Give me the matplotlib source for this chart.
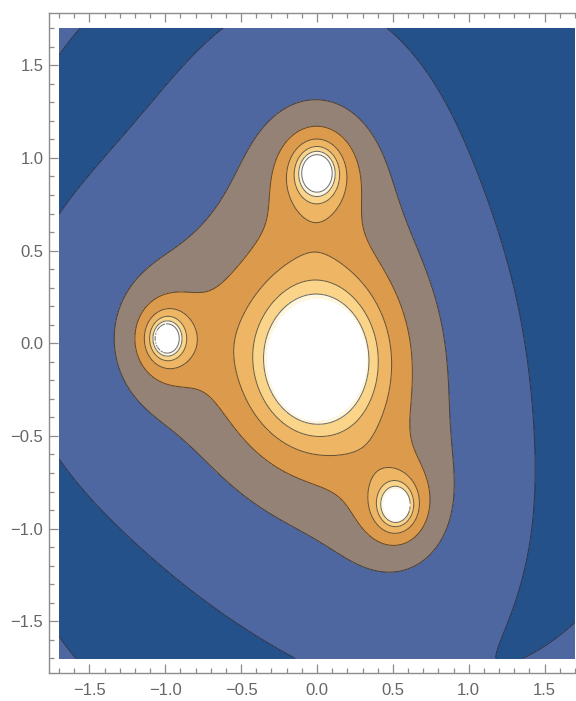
import numpy as np
import matplotlib.pyplot as plt
from matplotlib.ticker import MultipleLocator, FuncFormatter

# sources: position and strength of each body
src_x = [0.0, -0.99, 0.0, 0.52]
src_y = [-0.09, 0.026, 0.92, -0.873]
src_m = [1.0, 0.206, 0.271, 0.209]
bowl = 0.116  # r^2 term, makes the corners rise again

# white holes (the bodies themselves)
hole_x = [0.0, -0.99, 0.0, 0.523]
hole_y = [-0.09, 0.026, 0.918, -0.873]
hole_r = [0.33, 0.075, 0.085, 0.088]

# contour values and fill colours, low -> high
levels = [1.369, 1.816, 2.263, 2.710, 3.157, 3.604, 4.051]
fills = ['#24518a', '#4e67a0', '#958276', '#dc9a4d', '#eeb565',
         '#f9d489', '#fff6df', '#ffffff']

xs = np.linspace(-1.7, 1.7, 800)
X, Y = np.meshgrid(xs, xs)
V = bowl * (X**2 + Y**2) - 0.003 * Y
for sx, sy, m in zip(src_x, src_y, src_m):
    V = V + m / np.hypot(X - sx, Y - sy)
for hx, hy, hr in zip(hole_x, hole_y, hole_r):
    V[np.hypot(X - hx, Y - hy) < hr] = np.nan

fig = plt.figure(figsize=(5.76, 7.01), dpi=100)
ax = fig.add_axes([49 / 576, 28 / 701, 536 / 576, 660 / 701])

ax.contourf(X, Y, V, levels=[-1e9] + levels + [1e9], colors=fills)
ax.contour(X, Y, V, levels=levels, colors='#1a1a1a', linewidths=0.7, alpha=0.65)

ax.set_xlim(-1.767, 1.767)
ax.set_ylim(-1.779, 1.782)

fmt = FuncFormatter(lambda v, p: ('%.1f' % v).replace('-', '\u2212'))
for axis in (ax.xaxis, ax.yaxis):
    axis.set_major_locator(MultipleLocator(0.5))
    axis.set_minor_locator(MultipleLocator(0.1))
    axis.set_major_formatter(fmt)
ax.tick_params(which='both', direction='in', top=True, right=True, color='#8c8c8c', width=0.9)
ax.tick_params(which='major', length=6.5, labelsize=12, labelcolor='#666666', pad=7)
ax.tick_params(which='minor', length=3.5)
ax.tick_params(axis='y', pad=4)
for lab in ax.get_xticklabels() + ax.get_yticklabels():
    lab.set_fontfamily('Liberation Sans')
for s in ax.spines.values():
    s.set_color('#8c8c8c')
    s.set_linewidth(1.0)

fig.savefig('out.png')
